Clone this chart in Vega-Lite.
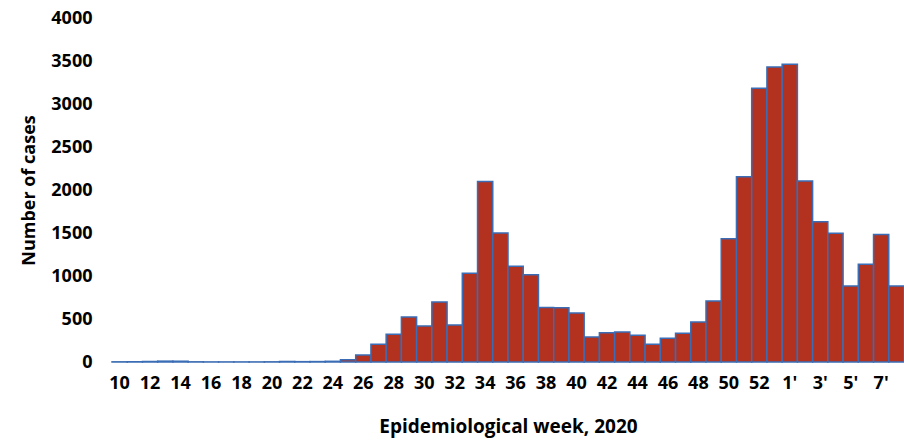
{
  "$schema": "https://vega.github.io/schema/vega-lite/v6.json",
  "autosize": "none",
  "width": 792,
  "height": 344,
  "padding": {"left": 112, "top": 18, "right": 0, "bottom": 86},
  "background": "white",
  "config": {"view": {"stroke": null}, "font": "Open Sans"},
  "data": {"values": [
    {"week": "10", "cases": 2}, {"week": "11", "cases": 3}, {"week": "12", "cases": 5}, {"week": "13", "cases": 10},
    {"week": "14", "cases": 9}, {"week": "15", "cases": 2}, {"week": "16", "cases": 1}, {"week": "17", "cases": 1},
    {"week": "18", "cases": 1}, {"week": "19", "cases": 1}, {"week": "20", "cases": 2}, {"week": "21", "cases": 6},
    {"week": "22", "cases": 4}, {"week": "23", "cases": 5}, {"week": "24", "cases": 8}, {"week": "25", "cases": 25},
    {"week": "26", "cases": 82}, {"week": "27", "cases": 205}, {"week": "28", "cases": 322}, {"week": "29", "cases": 523},
    {"week": "30", "cases": 419}, {"week": "31", "cases": 698}, {"week": "32", "cases": 430}, {"week": "33", "cases": 1031},
    {"week": "34", "cases": 2100}, {"week": "35", "cases": 1500}, {"week": "36", "cases": 1114}, {"week": "37", "cases": 1015},
    {"week": "38", "cases": 635}, {"week": "39", "cases": 631}, {"week": "40", "cases": 570}, {"week": "41", "cases": 291},
    {"week": "42", "cases": 341}, {"week": "43", "cases": 349}, {"week": "44", "cases": 310}, {"week": "45", "cases": 205},
    {"week": "46", "cases": 275}, {"week": "47", "cases": 333}, {"week": "48", "cases": 465}, {"week": "49", "cases": 709},
    {"week": "50", "cases": 1434}, {"week": "51", "cases": 2155}, {"week": "52", "cases": 3182}, {"week": "53", "cases": 3430},
    {"week": "1'", "cases": 3461}, {"week": "2'", "cases": 2105}, {"week": "3'", "cases": 1632}, {"week": "4'", "cases": 1496},
    {"week": "5'", "cases": 884}, {"week": "6'", "cases": 1136}, {"week": "7'", "cases": 1484}, {"week": "8'", "cases": 884}
  ]},
  "mark": {"type": "bar", "fill": "#B2311F", "stroke": "#3A6DB5", "strokeWidth": 1.5},
  "encoding": {
    "x": {
      "field": "week", "type": "ordinal", "sort": null,
      "scale": {"paddingInner": 0, "paddingOuter": 0},
      "axis": {
        "title": "Epidemiological week, 2020",
        "values": ["10","12","14","16","18","20","22","24","26","28","30","32","34","36","38","40","42","44","46","48","50","52","1'","3'","5'","7'"],
        "labelAngle": 0, "domain": false, "ticks": false,
        "labelFont": "Open Sans", "labelFontWeight": "bold", "labelFontSize": 18, "labelColor": "#000",
        "labelPadding": 12,
        "titleFont": "Open Sans", "titleFontWeight": "bold", "titleFontSize": 19, "titleColor": "#000",
        "titlePadding": 25
      }
    },
    "y": {
      "field": "cases", "type": "quantitative",
      "scale": {"domain": [0, 4000]},
      "axis": {
        "title": "Number of cases",
        "values": [0, 500, 1000, 1500, 2000, 2500, 3000, 3500, 4000],
        "format": "d",
        "grid": false, "domain": false, "ticks": false,
        "labelFont": "Open Sans", "labelFontWeight": "bold", "labelFontSize": 18, "labelColor": "#000",
        "labelPadding": 20,
        "titleFont": "Open Sans", "titleFontWeight": "bold", "titleFontSize": 18, "titleColor": "#000",
        "titlePadding": 12
      }
    }
  }
}
